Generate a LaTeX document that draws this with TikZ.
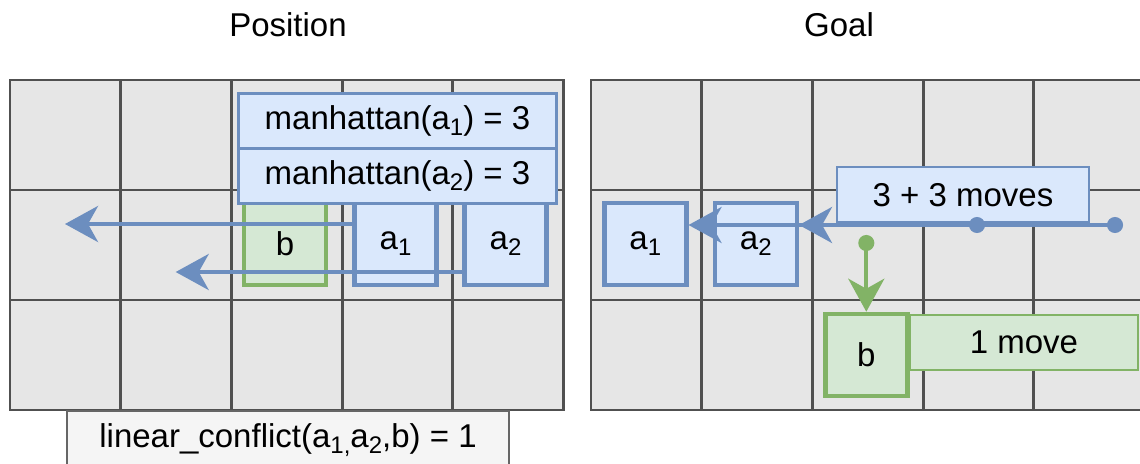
\documentclass[tikz,border=0pt]{standalone}
\usepackage{fontspec}
\setmainfont{Liberation Sans}
\usetikzlibrary{arrows.meta, positioning}

\definecolor{gridfill}{HTML}{E6E6E6}
\definecolor{gridline}{HTML}{505050}
\definecolor{agentfill}{HTML}{DAE8FC}
\definecolor{agentline}{HTML}{6C8EBF}
\definecolor{blockfill}{HTML}{D5E8D4}
\definecolor{blockline}{HTML}{82B366}
\definecolor{notefill}{HTML}{F5F5F5}
\definecolor{noteline}{HTML}{666666}

\newcommand{\lowsub}[1]{\raisebox{-0.35ex}{\fontsize{24}{28}\selectfont #1}}

\begin{document}
\begin{tikzpicture}[x=1pt, y=-1pt, >={Stealth[length=33pt, width=36pt, inset=10pt]}, font=\fontsize{33}{39}\selectfont,
	cell/.style={draw=gridline, fill=gridfill, line width=2.8pt},
	agent/.style={draw=agentline, fill=agentfill, line width=4.5pt, minimum width=82pt, minimum height=82pt, inner sep=0pt},
	blocker/.style={agent, draw=blockline, fill=blockfill},
	tag/.style={draw=agentline, fill=agentfill, line width=2.2pt, minimum height=55pt, inner sep=0pt, outer sep=0pt},
	note/.style={tag, draw=noteline, fill=notefill},
	move/.style={->, draw=agentline, line width=4.2pt},
	track/.style={move, {Circle[length=16pt]}->},
	push/.style={track, draw=blockline}
	]
	\useasboundingbox (0,0) rectangle (1140,463);

	\node (postitle)  at (288,25) {Position};
	\node (goaltitle) at (839,25) {Goal};

	%Tabuleiros 5x3
	\foreach \col in {0,...,4}
		\foreach \row in {0,...,2} {
			\draw[cell] ({10+110.7*\col},{80+110*\row}) rectangle +(110.7,110);
			\draw[cell] ({591+110.7*\col},{80+110*\row}) rectangle +(110.7,110);
		}

	\node[note, minimum width=442pt, minimum height=58pt] (conflict) at (288,440) {linear\_conflict(a\lowsub{1,}a\lowsub{2},b) = 1};

	%Posicao
	\node[blocker] (b)  at (285,244)   {b};
	\node[agent]   (a1) at (395.5,244) {a\lowsub{1}};
	\node[agent]   (a2) at (505.5,244) {a\lowsub{2}};
	\coordinate (a1dest) at (65,224);
	\coordinate (a2dest) at (175.7,272);
	\draw[move] ([yshift=20pt]a1.west)  -- (a1dest);
	\draw[move] ([yshift=-28pt]a2.west) -- (a2dest);
	\node[tag, minimum width=318pt] (man1) at (397.5,121) {manhattan(a\lowsub{1}) = 3};
	\node[tag, minimum width=318pt] (man2) [below=0pt of man1] {manhattan(a\lowsub{2}) = 3};

	%Objetivo
	\node[agent]   (g1) at (645.3,244) {a\lowsub{1}};
	\node[agent]   (g2) at (755.8,244) {a\lowsub{2}};
	\node[blocker] (gb) at (866.3,355) {b};
	\node[tag, minimum width=252pt] (sum) at (963,194.8) {3 + 3 moves};
	\node[tag, draw=blockline, fill=blockfill, minimum width=228pt] (onemove) at (1024,342.5) {1 move};
	\coordinate (a1from) at (985,225);
	\coordinate (a2from) at (1123,225);
	\coordinate (bfrom)  at (866.3,235);
	\draw[track] (a2from) -- ([yshift=19pt]g2.east);
	\draw[track] (a1from) -- ([yshift=19pt]g1.east);
	\draw[push]  (bfrom)  -- (gb.north);
\end{tikzpicture}
\end{document}
